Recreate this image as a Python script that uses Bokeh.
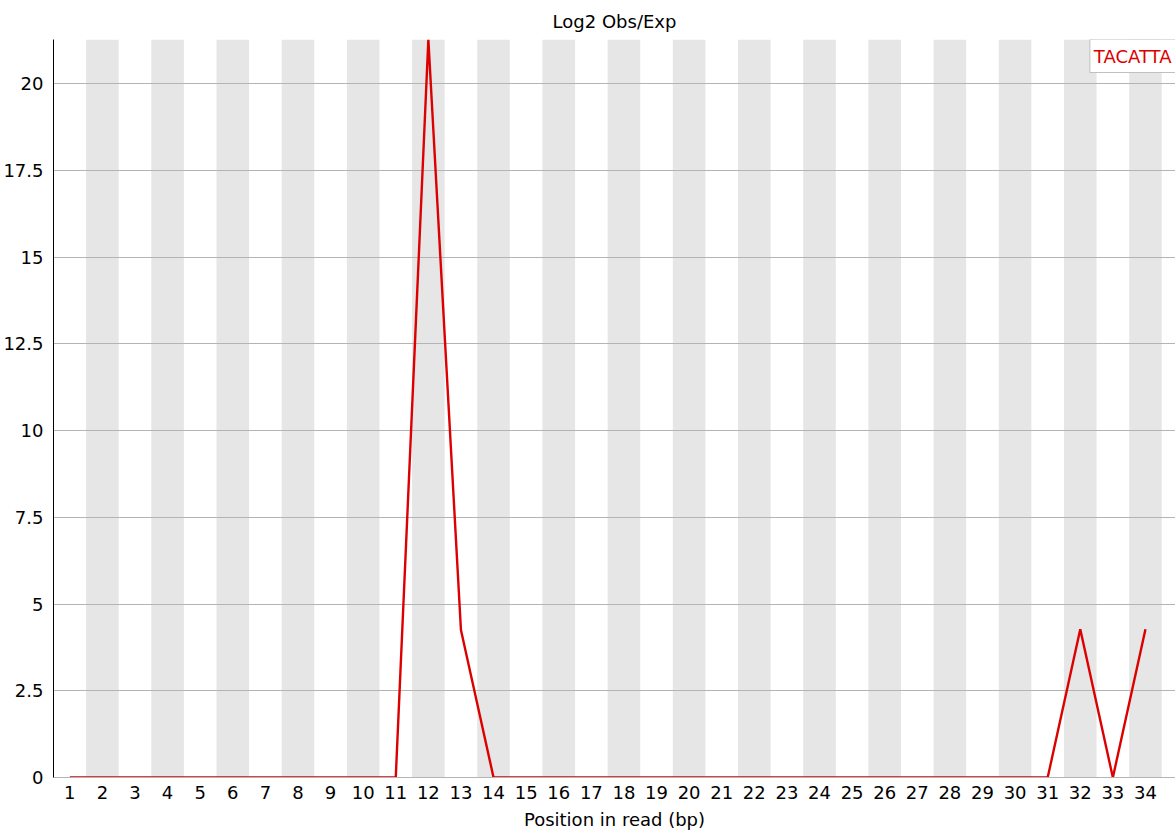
from bokeh.plotting import figure
from bokeh.models import ColumnDataSource, Label, FixedTicker, Range1d
from bokeh.embed import file_html
from bokeh.resources import INLINE

# ---- data ----
positions = [1, 2, 3, 4, 5, 6, 7, 8, 9, 10, 11, 12, 13, 14, 15, 16, 17,
             18, 19, 20, 21, 22, 23, 24, 25, 26, 27, 28, 29, 30, 31, 32, 33, 34]
log2_obs_exp = [0, 0, 0, 0, 0, 0, 0, 0, 0, 0, 0, 21.27, 4.25, 0, 0, 0, 0,
                0, 0, 0, 0, 0, 0, 0, 0, 0, 0, 0, 0, 0, 0, 4.27, 0, 4.27]
y_ticks = [0, 2.5, 5, 7.5, 10, 12.5, 15, 17.5, 20]
y_tick_labels = ["0", "2.5", "5", "7.5", "10", "12.5", "15", "17.5", "20"]
series_name = "TACATTA"
title_text = "Log2 Obs/Exp"
x_label = "Position in read (bp)"

# ---- layout constants ----
W, H = 1175, 834
LEFT, RIGHT, TOP, BOTTOM = 52, 0, 39, 57
FONT = "DejaVu Sans"
RED = "#dc0000"

frame_w = W - LEFT - RIGHT
col_px = 32.625
x_start = 0.5
x_end = x_start + frame_w / col_px
y_max = max(log2_obs_exp)

p = figure(width=W, height=H, output_backend="svg", toolbar_location=None,
           x_range=Range1d(x_start, x_end), y_range=Range1d(0, y_max),
           min_border_left=LEFT, min_border_right=RIGHT,
           min_border_top=TOP, min_border_bottom=BOTTOM,
           background_fill_color="white", border_fill_color="white",
           outline_line_color=None)

# alternating bands
band_pos = positions[1::2]
bands = ColumnDataSource(dict(left=[v - 0.5 for v in band_pos],
                              right=[v + 0.5 for v in band_pos],
                              bottom=[0] * len(band_pos),
                              top=[y_max] * len(band_pos)))
br = p.quad(left="left", right="right", bottom="bottom", top="top", source=bands,
            fill_color="#e6e6e6", line_color=None)
br.level = "image"

# series line
src = ColumnDataSource(dict(x=positions, y=log2_obs_exp))
p.line("x", "y", source=src, line_color=RED, line_width=2.4)

# grids
p.xgrid.visible = False
p.ygrid.ticker = FixedTicker(ticks=y_ticks)
p.ygrid.grid_line_color = "#b4b4b4"
p.ygrid.grid_line_width = 1

# x axis
p.xaxis.ticker = FixedTicker(ticks=positions)
p.xaxis.axis_label = x_label
p.xaxis.axis_label_text_font = FONT
p.xaxis.axis_label_text_font_size = "18px"
p.xaxis.axis_label_text_font_style = "normal"
p.xaxis.axis_label_text_color = "black"
p.xaxis.axis_label_standoff = 7
p.xaxis.major_label_text_font = FONT
p.xaxis.major_label_text_font_size = "18px"
p.xaxis.major_label_text_color = "black"
p.xaxis.major_label_standoff = 2
p.xaxis.major_tick_line_color = None
p.xaxis.minor_tick_line_color = None
p.xaxis.axis_line_color = "#b4b4b4"

# y axis
p.yaxis.ticker = FixedTicker(ticks=y_ticks)
p.yaxis.major_label_overrides = {t: s for t, s in zip(y_ticks, y_tick_labels)}
p.yaxis.major_label_text_font = FONT
p.yaxis.major_label_text_font_size = "18px"
p.yaxis.major_label_text_color = "black"
p.yaxis.major_label_standoff = 4
p.yaxis.major_tick_line_color = None
p.yaxis.minor_tick_line_color = None
p.yaxis.axis_line_color = "black"
p.yaxis.axis_line_width = 1

# title
p.title.text = title_text
p.title.align = "center"
p.title.text_font = FONT
p.title.text_font_size = "18px"
p.title.text_font_style = "normal"
p.title.text_color = "black"
p.title.text_line_height = 1.0
p.title.standoff = 16

# legend box
p.add_layout(Label(x=x_end, y=y_max, text=series_name, anchor="top_right",
                   text_font=FONT, text_font_size="18px", text_color=RED,
                   padding=(4, 4, 6, 6),
                   background_fill_color="white", border_line_color="#c0c0c0"))

open("out.html", "w").write(file_html(p, INLINE))
